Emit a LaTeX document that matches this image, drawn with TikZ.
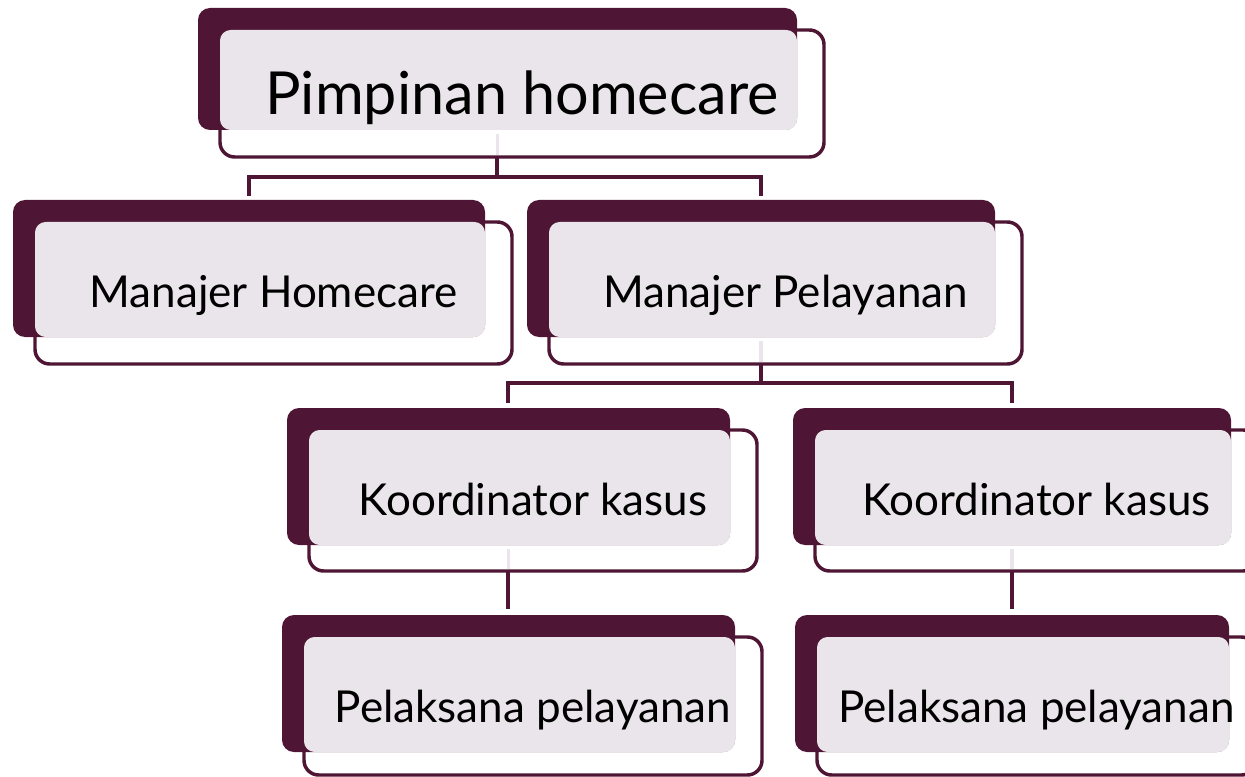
\documentclass[tikz,border=0pt]{standalone}
\usepackage{fontspec}
\setmainfont{Lato}
\usetikzlibrary{fit}
\definecolor{plum}{RGB}{78,22,52}
\definecolor{pale}{RGB}{234,229,234}
\tikzset{
  outlinebox/.style={draw=plum, line width=2.6pt, fill=white, rounded corners=11pt, inner sep=0pt, outer sep=0pt},
  darkbox/.style={fill=plum, rounded corners=9pt, inner sep=0pt, outer sep=0pt},
  lightbox/.style={fill=pale, rounded corners=8pt, inner sep=0pt, outer sep=0pt},
  txt/.style={inner sep=0pt, anchor=base, text=black, font=\fontsize{33}{40}\selectfont},
  bigtxt/.style={inner sep=0pt, anchor=base, text=black, font=\fontsize{44.5}{54}\selectfont},
  conn/.style={draw=plum, line width=2.6pt},
  lconn/.style={draw=pale, line width=2.6pt},
}
\newcommand\orgbox[6]{%
  \node[outlinebox, fit={({#2+22},{#3+22}) ({#4+27},{#5+#6})}] (o#1) {};
  \node[darkbox, fit={(#2,#3) (#4,#5)}] (d#1) {};
  \node[lightbox, fit={({#2+22},{#3+22}) (#4,#5)}] (l#1) {};
}
\begin{document}
\begin{tikzpicture}[x=0.75pt,y=-0.75pt]
\useasboundingbox (0,0) rectangle (1245,777);
\clip (0,0) rectangle (1245,777);
% connectors (drawn first)
\coordinate (j1) at (497,177);
\coordinate (j2) at (761,383);
\draw[conn] (497,130) -- (j1);
\draw[conn] (249,196) |- (j1) -| (761,196);
\draw[conn] (761,337) -- (j2);
\draw[conn] (508,403) |- (j2) -| (1012,403);
\draw[conn] (508,545) -- (508,609);
\draw[conn] (1012,545) -- (1012,609);
% boxes
\orgbox{top}{198}{8}{797}{130}{27}
\orgbox{mh}{13}{200}{485}{337}{27}
\orgbox{mp}{527}{200}{995}{337}{27}
\orgbox{ka}{287}{408}{730}{545}{26}
\orgbox{kb}{793}{408}{1231}{545}{26}
\orgbox{pa}{282}{615}{735}{752}{23}
\orgbox{pb}{795}{615}{1229}{752}{23}
% light connector segments inside the outline boxes
\draw[lconn] ([yshift=-3pt]dtop.south) -- ([yshift=1.5pt]dtop.south |- otop.south);
\draw[lconn] ([yshift=-3pt]dmp.south) -- ([yshift=1.5pt]dmp.south |- omp.south);
\draw[lconn] ([yshift=-3pt]dka.south) -- ([yshift=1.5pt]dka.south |- oka.south);
\draw[lconn] ([yshift=-3pt]dkb.south) -- ([yshift=1.5pt]dkb.south |- okb.south);
% texts
\node[bigtxt] (ttop) at ([yshift=-16pt]otop.center) {Pimpinan homecare};
\node[txt] (tmh) at ([yshift=-10.5pt]omh.center) {Manajer Homecare};
\node[txt] (tmp) at ([yshift=-10.5pt]omp.center) {Manajer Pelayanan};
\node[txt] (tka) at ([yshift=-11pt]oka.center) {Koordinator kasus};
\node[txt] (tkb) at ([yshift=-11pt]okb.center) {Koordinator kasus};
\node[txt] (tpa) at ([yshift=-12pt]opa.center) {Pelaksana pelayanan};
\node[txt] (tpb) at ([yshift=-12pt]opb.center) {Pelaksana pelayanan};
\end{tikzpicture}
\end{document}
